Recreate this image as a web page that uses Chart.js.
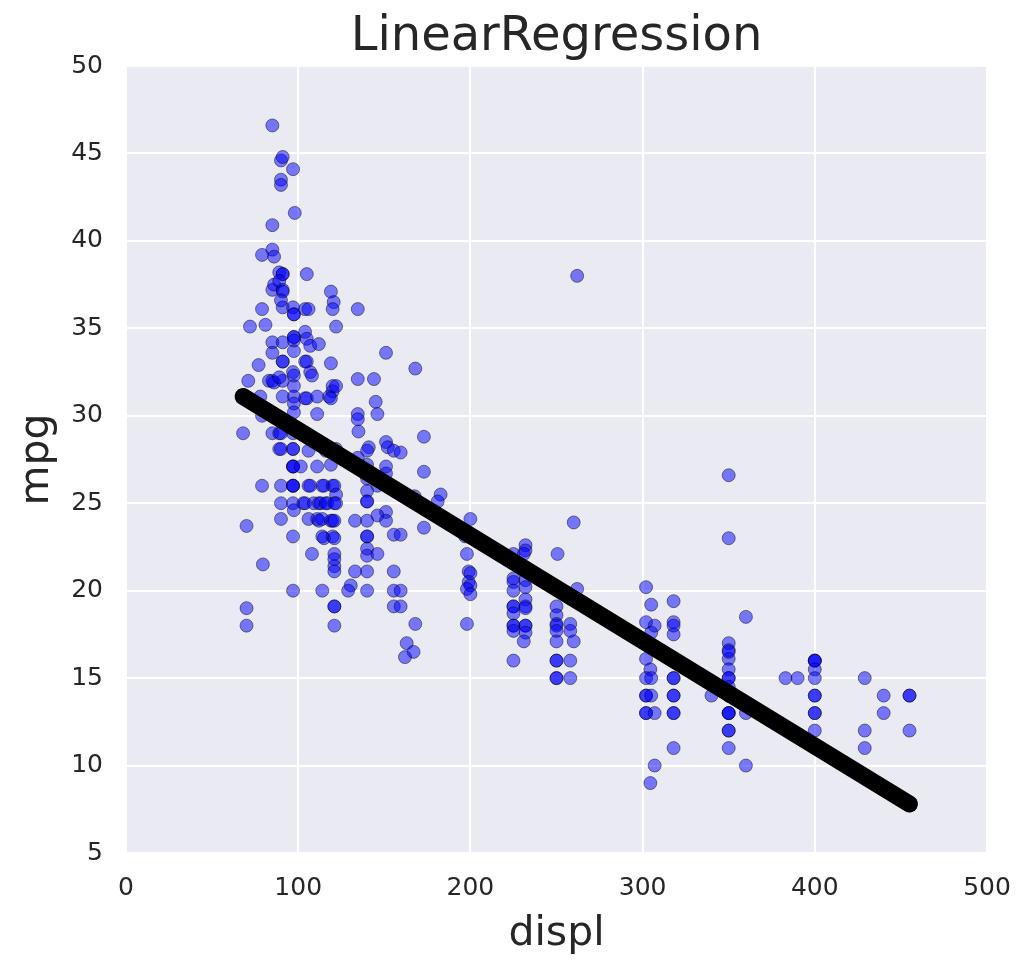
<!DOCTYPE html>
<html>
<head>
<meta charset="utf-8">
<title>LinearRegression</title>
<script src="https://cdn.jsdelivr.net/npm/chart.js@4.4.0/dist/chart.umd.min.js"></script>
<style>
    body { margin: 0; background: #ffffff; }
    #grafico { display: block; }
</style>
</head>
<body>
<canvas id="grafico" width="1022" height="960"></canvas>
<script>
// valores (displ, mpg)
const displ = [
    68, 70, 70, 70, 71, 72, 77, 78, 79, 79, 79.5, 79, 79, 81, 83, 85, 85, 85, 86, 85,
    86, 85, 85, 85, 86, 85, 89, 90, 90, 91, 90, 90, 97, 98, 89, 91, 91, 89, 91, 91,
    91, 90, 91, 91, 91, 91, 89, 91, 89, 90, 90, 90, 90, 97, 97.5, 97.5, 97.5, 97.5, 97.5, 97.5,
    97, 97.5, 97.5, 97.5, 97.5, 97.5, 97, 97, 97, 97, 97, 97, 97, 97, 97, 97, 97.5, 97, 97, 101.5,
    104, 106, 105, 104, 105, 107, 112, 104, 105, 107, 108, 104, 105, 111, 118, 111, 106, 116, 122, 111,
    119, 106, 107, 114, 115, 120, 121, 122, 103, 104, 109, 112, 113, 116, 117, 121, 122, 106, 111, 112,
    114, 119, 120, 121, 114, 115, 120, 121, 108, 121, 121, 121, 121, 114, 121, 121, 121, 119, 120.6, 120,
    122, 119, 120, 120, 119, 122,
    134.6, 134.6, 144, 145, 134.6, 134.6, 146, 135, 141, 140, 151, 152, 155.5, 140, 151, 134.6, 140, 140, 140, 151,
    146, 151, 133, 140, 155.5, 140, 140, 140, 140, 146, 133, 140, 130.5, 129, 140, 155.5, 155.5, 155.5, 151, 168,
    173, 173, 159.5, 167.6, 182.7, 181, 173, 159.5, 168, 163, 167, 162, 159.5, 159.5, 146, 140, 151,
    200, 197, 198, 199, 200, 199, 200, 198, 200, 198, 225, 232, 232, 231, 225, 225, 225, 232, 232, 232,
    225, 225, 225, 232, 232, 225, 225, 225, 232, 232, 232, 231, 225, 250.6, 260, 250, 250, 250, 250, 250,
    250, 258, 258, 260, 262, 250, 250, 258, 250, 250, 258, 262,
    350, 350, 302, 305, 318, 302, 307, 305, 318, 318, 318, 360, 350, 350, 350, 350, 350, 350, 302, 304.5,
    302, 305, 318, 318, 302, 302, 305, 318, 318, 340, 350, 350, 350, 302, 302, 307, 318, 318, 350, 350,
    350, 360, 350, 350, 318, 350, 307, 360, 304.5, 383, 390, 400, 400, 400, 400, 400, 400, 400, 400, 400,
    400, 429, 429, 429, 440, 440, 455, 455, 455, 302, 318, 350
];
const mpg = [
    29, 23.7, 19, 18, 32, 35.1, 32.9, 31.1, 30, 26, 21.5, 39.2, 36.1, 35.2, 32, 46.6, 40.9, 39.5, 39.1, 37.2,
    37.5, 34.2, 33.6, 32, 31.9, 29, 29, 29, 44.6, 44.8, 43.5, 43.2, 44.1, 41.6, 38.2, 38.1, 38.1, 37.7, 37.2, 37.1,
    36.2, 36.6, 34.2, 33.1, 33.1, 32, 32.2, 31.1, 28.1, 28.1, 26, 25, 24.1, 36.2, 35.8, 35.8, 34.5, 34.5, 34.3, 33.7,
    32.5, 32.3, 31.7, 31.1, 30.7, 30.2, 29, 28.1, 28.1, 27.1, 27.1, 27.1, 26, 26, 26, 25, 24.6, 23.1, 20, 27.1,
    36.1, 36.1, 38.1, 34.8, 34.4, 34, 34.1, 33.1, 33.1, 32.5, 32.3, 31, 31, 31.1, 31.1, 30.1, 28, 28, 28.1, 27.1,
    27.2, 26, 26, 26, 26, 26, 26, 25.5, 25, 25, 25, 25, 25, 25, 25, 25, 25, 24.1, 24.1, 24,
    24.1, 24, 24, 24, 23.1, 23, 23.1, 23, 22.1, 22.1, 21.8, 21.4, 21.1, 20, 19.1, 19.1, 18, 37.1, 36.5, 36.1,
    35.1, 33, 31.7, 31.4, 31, 31.7,
    36.1, 32.1, 32.1, 30.8, 30.1, 29.8, 30.1, 29.1, 28.2, 28, 28.5, 28.2, 28, 27.2, 27.1, 27.6, 25.7, 25.1, 25.1, 24.5,
    24.3, 24, 24, 24, 23.2, 23.1, 23.1, 22.4, 22, 22.1, 21.1, 21.1, 20.3, 20, 20, 21.1, 20, 19.1, 33.6, 32.7,
    28.8, 26.8, 27.9, 25.4, 25.5, 25.1, 23.6, 23.2, 18.1, 17, 16.5, 16.2, 20, 19.1, 26, 26.4, 26.7,
    24.1, 23.1, 22.1, 21.1, 21, 20.5, 20.3, 20.1, 19.8, 18.1, 22.1, 22.6, 22.3, 22.1, 20.7, 20.5, 20, 20.6, 20.2, 19.5,
    19.1, 19.1, 18.7, 19.1, 19, 18, 18, 17.7, 18, 18, 17.6, 17.1, 16, 22.1, 23.9, 19.1, 18.6, 18.1, 18, 17.7,
    17.1, 18.1, 17.7, 17.1, 20.1, 16, 16, 16, 15, 15, 15, 38,
    26.6, 23, 20.2, 19.2, 19.4, 18.2, 18, 17.6, 18.2, 18, 17.5, 18.5, 17, 16.6, 16.1, 15.5, 15, 15, 16.1, 15.5,
    15, 15, 15, 15, 14, 14, 14, 14, 14, 14, 14.5, 14, 14, 13, 13, 13, 13, 13, 13, 13,
    13, 13, 12, 12, 11, 11, 10, 10, 9, 15, 15, 16, 16, 16, 15.5, 15, 14, 14, 13, 13,
    12, 15, 12, 11, 14, 13, 14, 14, 12, 17, 16, 16.5
];
// recta de regresion (extremos leidos)
const lineaX = [68, 455];
const lineaY = [31.1, 7.8];

const xTicks = [0, 100, 200, 300, 400, 500];
const yTicks = [5, 10, 15, 20, 25, 30, 35, 40, 45, 50];

const puntos = displ.map((d, i) => ({ x: d, y: mpg[i] }));
const recta = lineaX.map((d, i) => ({ x: d, y: lineaY[i] }));

const fondo = {
    id: 'fondo',
    beforeDraw(chart) {
        const a = chart.chartArea;
        chart.ctx.save();
        chart.ctx.fillStyle = '#eaeaf2';
        chart.ctx.fillRect(a.left, a.top, a.right - a.left, a.bottom - a.top);
        chart.ctx.restore();
    }
};

const fuente = 'DejaVu Sans';
const ctx = document.getElementById('grafico');

new Chart(ctx, {
    type: 'scatter',
    data: {
        datasets: [{
            type: 'line',
            data: recta,
            borderColor: '#000000',
            borderWidth: 17,
            borderCapStyle: 'round',
            pointRadius: 0,
            fill: false,
            order: 0
        }, {
            data: puntos,
            pointRadius: 6.5,
            backgroundColor: 'rgba(0, 0, 255, 0.5)',
            borderColor: 'rgba(0, 0, 0, 0.45)',
            borderWidth: 1,
            order: 1
        }]
    },
    options: {
        responsive: false,
        animation: false,
        layout: { padding: { left: 0, right: 35, top: 0, bottom: 0 } },
        plugins: {
            legend: { display: false },
            tooltip: { enabled: false },
            title: {
                display: true,
                fullSize: false,
                text: 'LinearRegression',
                color: '#262626',
                font: { family: fuente, size: 48, weight: 'normal', lineHeight: 1 },
                padding: { top: 14, bottom: 4 }
            }
        },
        scales: {
            x: {
                type: 'linear',
                min: 0,
                max: 500,
                afterFit: (s) => { s.height = 107; s.paddingLeft = 0; s.paddingRight = 0; },
                afterBuildTicks: (s) => { s.ticks = xTicks.map(v => ({ value: v })); },
                grid: { color: '#ffffff', lineWidth: 2, drawTicks: false },
                border: { display: false },
                ticks: { color: '#262626', font: { family: fuente, size: 25 }, padding: 20 },
                title: {
                    display: true,
                    text: 'displ',
                    color: '#262626',
                    font: { family: fuente, size: 41 },
                    padding: { top: 0, bottom: 1 }
                }
            },
            y: {
                type: 'linear',
                min: 5,
                max: 50,
                afterFit: (s) => { s.width = 126; s.paddingTop = 0; s.paddingBottom = 0; },
                afterBuildTicks: (s) => { s.ticks = yTicks.map(v => ({ value: v })); },
                grid: { color: '#ffffff', lineWidth: 2, drawTicks: false },
                border: { display: false },
                ticks: { color: '#262626', font: { family: fuente, size: 25 }, padding: 23 },
                title: {
                    display: true,
                    text: 'mpg',
                    color: '#262626',
                    font: { family: fuente, size: 41 },
                    padding: { top: 13, bottom: 0 }
                }
            }
        }
    },
    plugins: [fondo]
});
</script>
</body>
</html>
